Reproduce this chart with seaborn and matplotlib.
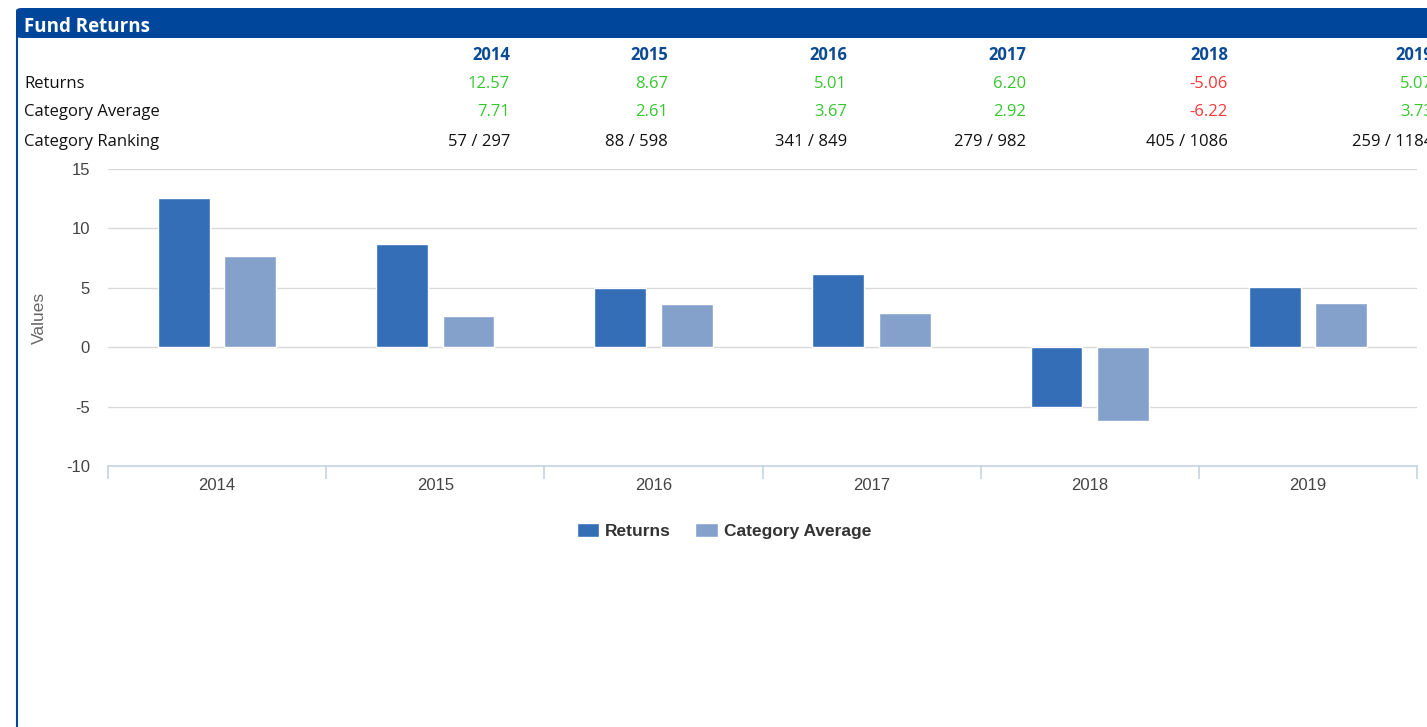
import numpy as np
import pandas as pd
import matplotlib.pyplot as plt
import seaborn as sns
from matplotlib.patches import FancyBboxPatch
from matplotlib.lines import Line2D

# ========== 数据 ==========
years = ["2014", "2015", "2016", "2017", "2018", "2019"]
returns = [12.57, 8.67, 5.01, 6.20, -5.06, 5.07]
category_avg = [7.71, 2.61, 3.67, 2.92, -6.22, 3.73]
rankings = ["57 / 297", "88 / 598", "341 / 849", "279 / 982", "405 / 1086", "259 / 1184"]
series_names = ["Returns", "Category Average"]

# ========== 样式 ==========
W, H = 1427, 727
NAVY = "#00469a"
YEAR_BLUE = "#0b4a95"
GREEN = "#36c72f"
RED = "#f6373a"
BAR_COLORS = ["#336eb7", "#84a1cc"]
TABLE_FONT = "Open Sans"
CHART_FONT = "Liberation Sans"

sns.set_theme(style="white")
plt.rcParams["font.family"] = [CHART_FONT, "DejaVu Sans"]
plt.rcParams["axes.unicode_minus"] = False

def fx(px):
    return px / W

def fy(py):
    return 1 - py / H

fig = plt.figure(figsize=(W / 100, H / 100), dpi=100)

# ========== 面板标题栏 ==========
fig.patches.append(FancyBboxPatch((fx(16), fy(38)), fx(1440 - 16), fy(8) - fy(38),
                                  boxstyle="round,pad=0,rounding_size=0.004",
                                  transform=fig.transFigure, facecolor=NAVY,
                                  edgecolor="none", zorder=0))
fig.lines.append(Line2D([fx(16.5), fx(16.5)], [fy(30), 0], transform=fig.transFigure,
                        color=NAVY, lw=1.5))
fig.text(fx(24), fy(26.5), "Fund Returns", color="white", fontsize=13.5,
         fontweight="bold", family=TABLE_FONT, va="center", ha="left")

# ========== 表格 ==========
col_right = [510, 668, 847, 1026, 1228, 1433]
row_y = [54.5, 83.5, 112.5, 141.5]
row_labels = ["Returns", "Category Average", "Category Ranking"]
TS = 12
for lbl, y in zip(row_labels, row_y[1:]):
    fig.text(fx(24), fy(y), lbl, fontsize=TS, family=TABLE_FONT,
             color="#111111", va="center", ha="left")

def val_color(v):
    return GREEN if v >= 0 else RED

for i, x in enumerate(col_right):
    fig.text(fx(x), fy(row_y[0]), years[i], fontsize=TS, family=TABLE_FONT,
             fontweight="bold", color=YEAR_BLUE, va="center", ha="right")
    fig.text(fx(x), fy(row_y[1]), f"{returns[i]:.2f}", fontsize=TS,
             family=TABLE_FONT, color=val_color(returns[i]), va="center", ha="right")
    fig.text(fx(x), fy(row_y[2]), f"{category_avg[i]:.2f}", fontsize=TS,
             family=TABLE_FONT, color=val_color(category_avg[i]), va="center", ha="right")
    fig.text(fx(x), fy(row_y[3]), rankings[i], fontsize=TS,
             family=TABLE_FONT, color="#111111", va="center", ha="right")

# ========== 柱状图 ==========
df = pd.DataFrame({
    "Year": years * 2,
    "Value": returns + category_avg,
    "Series": [series_names[0]] * len(years) + [series_names[1]] * len(years),
})

ax = fig.add_axes([fx(108), fy(466), fx(1417) - fx(108), fy(169) - fy(466)])
sns.barplot(data=df, x="Year", y="Value", hue="Series", palette=BAR_COLORS,
            width=0.61, gap=0.22, saturation=1, edgecolor="white", linewidth=1,
            ax=ax, legend=True)

ax.set_ylim(-10, 15)
ax.set_xlim(-0.5, len(years) - 0.5)
ax.set_yticks(np.arange(-10, 16, 5))
ax.yaxis.grid(True, color="#d9d9d9", lw=1)
ax.set_axisbelow(True)
for s in ["top", "right", "left"]:
    ax.spines[s].set_visible(False)
ax.spines["bottom"].set_color("#c4d3e4")
ax.spines["bottom"].set_linewidth(1.2)

ax.set_xticks(np.arange(-0.5, len(years), 1), minor=True)
ax.tick_params(axis="x", which="minor", length=9.5, color="#c4d3e4", width=1.2, bottom=True)
ax.tick_params(axis="x", which="major", length=0, pad=9, labelsize=12, labelcolor="#444444")
ax.tick_params(axis="y", length=0, pad=13, labelsize=12, labelcolor="#444444")
ax.set_xlabel("")
ax.set_ylabel("Values", fontsize=12.5, color="#666666", labelpad=14)

handles, labels = ax.get_legend_handles_labels()
ax.legend(handles, labels, loc="center", bbox_to_anchor=(fx(724), fy(531)),
          bbox_transform=fig.transFigure, ncol=2, frameon=False,
          prop={"family": CHART_FONT, "weight": "bold", "size": 12.5},
          labelcolor="#333333", handlelength=1.3, handleheight=0.9,
          handletextpad=0.35, columnspacing=1.4)

fig.savefig("out.png", dpi=100, facecolor="white")
